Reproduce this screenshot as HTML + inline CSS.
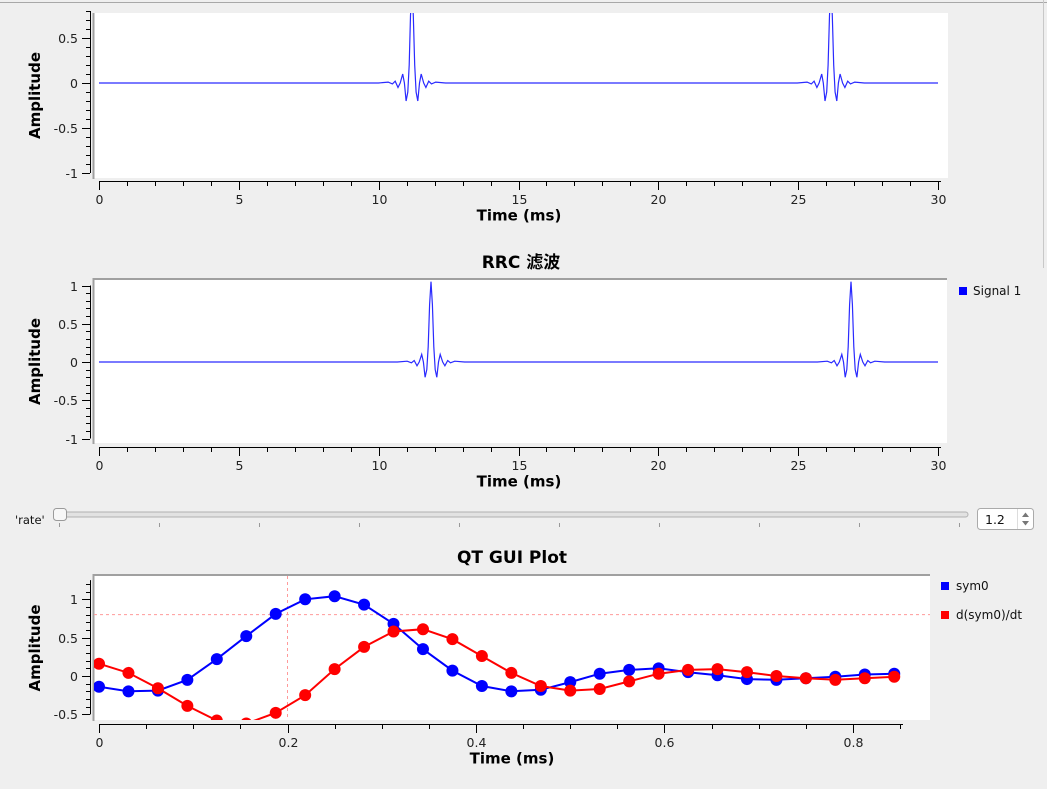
<!DOCTYPE html>
<html><head><meta charset="utf-8"><style>
html,body{margin:0;padding:0;background:#efefef;}
svg{display:block;font-family:"DejaVu Sans","Liberation Sans","Noto Sans CJK SC",sans-serif;}
.tk{font-size:12.5px;fill:#222;}
.ttl{font-size:17px;font-weight:bold;fill:#000;}
.ax{font-size:15px;font-weight:bold;fill:#000;}
</style></head><body>
<svg id="root" width="1047" height="789" viewBox="0 0 1047 789">
<line x1="0" y1="2.5" x2="1047" y2="2.5" stroke="#a8a8a8" stroke-width="1"/>
<line x1="1043.5" y1="0" x2="1043.5" y2="268" stroke="#c8c8c8" stroke-width="1"/>
<g id="layer"></g>
<!-- slider -->
<text x="15" y="524" font-size="11.5" fill="#111">'rate'</text>
<rect x="55" y="512" width="913" height="5" rx="2.5" fill="#e2e2e2" stroke="#b0b0b0"/>
<rect x="53.5" y="508.5" width="13" height="12" rx="3" fill="#f7f7f7" stroke="#9a9a9a"/>
<g id="sliderTicks" stroke="#999"></g>
<g>
<rect x="977.5" y="508.5" width="56" height="21" rx="3" fill="#fff" stroke="#aaa"/>
<text x="985" y="524" font-size="12.5" fill="#111">1.2</text>
<line x1="1017.5" y1="509" x2="1017.5" y2="529" stroke="#ddd"/>
<path d="M1022 517 L1025.5 512.5 L1029 517 Z" fill="#777"/>
<path d="M1022 521 L1025.5 525.5 L1029 521 Z" fill="#777"/>
</g>
</svg>
<script>
// ---- data ----
const pulseOffsets = [-1.2,-0.85,-0.7,-0.6,-0.5,-0.42,-0.33,-0.27,-0.21,-0.15,-0.1,-0.05,0,0.05,0.1,0.15,0.21,0.27,0.33,0.42,0.5,0.6,0.7,0.85,1.2];
const pulseValues  = [0,0.01,-0.01,0.02,-0.05,0,0.1,0,-0.2,-0.1,0.2,0.75,1.05,0.75,0.2,-0.1,-0.2,0,0.1,0,-0.05,0.02,-0.01,0.01,0];
const topPulseCenters = [11.19, 26.17];
const rrcPulseCenters = [11.87, 26.89];
const timeTicks = [0,5,10,15,20,25,30];
const ampTicks = [-1,-0.5,0,0.5,1];
const plotTimes = [0,0.03125,0.0625,0.09375,0.125,0.15625,0.1875,0.21875,0.25,0.28125,0.3125,0.34375,0.375,0.40625,0.4375,0.46875,0.5,0.53125,0.5625,0.59375,0.625,0.65625,0.6875,0.71875,0.75,0.78125,0.8125,0.84375];
const sym0 = [-0.14,-0.20,-0.19,-0.05,0.22,0.52,0.81,1.0,1.04,0.93,0.68,0.35,0.07,-0.13,-0.20,-0.18,-0.08,0.03,0.08,0.10,0.05,0.01,-0.04,-0.05,-0.03,-0.01,0.02,0.03];
const dsym0 = [0.16,0.04,-0.16,-0.39,-0.58,-0.62,-0.48,-0.25,0.09,0.38,0.58,0.61,0.48,0.26,0.04,-0.13,-0.19,-0.17,-0.07,0.03,0.08,0.09,0.05,0.0,-0.03,-0.05,-0.03,-0.01];
const plotXTicks = [0,0.2,0.4,0.6,0.8];
const plotYTicks = [-0.5,0,0.5,1];
const crosshair = [0.2, 0.8];
const sliderTickVals = [0,1,2,3,4,5,6,7,8,9];

const NS="http://www.w3.org/2000/svg";
const layer=document.getElementById('layer');
function mk(tag,attrs,parent){const e=document.createElementNS(NS,tag);for(const k in attrs)e.setAttribute(k,attrs[k]);(parent||layer).appendChild(e);return e;}
function scale(d0,d1,p0,p1){return v=>p0+(v-d0)*(p1-p0)/(d1-d0);}
function fmt(v){return (Math.round(v*100)/100).toString();}

function axesAndFrame(g,o){
  const {x0,x1,y0,y1,sx,sy}=o;
  mk('rect',{x:x0,y:y0,width:x1-x0,height:y1-y0,fill:'#fff'},g);
  mk('line',{x1:x0-0.5,y1:y0,x2:x0-0.5,y2:y1+1,stroke:'#a0a0a0','stroke-width':2},g);
  if(!o.noTop) mk('line',{x1:x0-1.5,y1:y0-1,x2:x1,y2:y0-1,stroke:'#a0a0a0','stroke-width':2},g);
  const ya=mk('g',{},g);
  
  
  const bx=o.axX;
  mk('line',{x1:bx+0.5,y1:sy(o.yMax),x2:bx+0.5,y2:sy(o.yMin),stroke:'#000'},ya);
  for(let v=o.yMin;v<=o.yMax+1e-9;v+=o.yMinor){mk('line',{x1:bx-4,y1:Math.round(sy(v))+0.5,x2:bx,y2:Math.round(sy(v))+0.5,stroke:'#000'},ya);}
  o.yTicks.forEach(v=>{const y=Math.round(sy(v))+0.5;mk('line',{x1:bx-8,y1:y,x2:bx,y2:y,stroke:'#000'},ya);
    const t=mk('text',{x:bx-12,y:y+4.5,'text-anchor':'end',class:'tk'},ya);t.textContent=fmt(v);});
  const yt=mk('text',{x:0,y:0,class:'ax','text-anchor':'middle',transform:`translate(40,${(y0+y1)/2}) rotate(-90)`},g);
  yt.textContent='Amplitude';
  
  
  const xa=mk('g',{},g);
  
  
  const by=o.axY;
  mk('line',{x1:sx(o.xMin),y1:by+0.5,x2:o.axXEnd,y2:by+0.5,stroke:'#000'},xa);
  for(let v=o.xMin;sx(v)<=o.axXEnd+0.5;v+=o.xMinor){const x=Math.round(sx(v))+0.5;mk('line',{x1:x,y1:by,x2:x,y2:by+5,stroke:'#000'},xa);}
  o.xTicks.forEach(v=>{const x=Math.round(sx(v))+0.5;mk('line',{x1:x,y1:by,x2:x,y2:by+9,stroke:'#000'},xa);
    const t=mk('text',{x:x,y:by+23,'text-anchor':'middle',class:'tk'},xa);t.textContent=fmt(v);});
  const xt=mk('text',{x:o.xTitleX,y:by+39.5,'text-anchor':'middle',class:'ax'},g);
  xt.textContent='Time (ms)';
  
  
}
let clipId=0;
function clip(g,o){const id='c'+(clipId++);const cp=mk('clipPath',{id:id},g);mk('rect',{x:o.x0,y:o.y0,width:o.x1-o.x0,height:o.y1-o.y0},cp);return id;}

function timeChart(name,centers,o,legend){
  const g=mk('g',{});
  
  
  axesAndFrame(g,o);
  const id=clip(g,o);
  const pts=[[0,0]];
  centers.forEach(c=>pulseOffsets.forEach((d,i)=>pts.push([c+d,pulseValues[i]])));
  pts.push([30,0]);
  const d=pts.map((p,i)=>(i?'L':'M')+o.sx(p[0]).toFixed(1)+' '+o.sy(p[1]).toFixed(1)).join(' ');
  const path=mk('path',{d:d,fill:'none',stroke:'#2a2aff','stroke-width':1.2,'clip-path':`url(#${id})`},g);
  
  
  if(legend){
    const lg=mk('g',{},g);
    
    
    mk('rect',{x:959,y:287,width:8,height:8,fill:'#0000ff'},lg);
    const t=mk('text',{x:973,y:295,'font-size':12,fill:'#111'},lg);t.textContent='Signal 1';
  }
  if(o.title){const t=mk('text',{x:o.titleX,y:o.titleY,'text-anchor':'middle',class:'ttl'},g);t.textContent=o.title;
    
    }
}

const sxT=scale(0,30,99,938);
timeChart('time-chart-top',topPulseCenters,{x0:94,x1:948,y0:13,y1:178,sx:sxT,sy:scale(0,0.5,83,38),axX:90,axY:181,axXEnd:941,noTop:true,
  xMin:0,xMinor:1,xTicks:timeTicks,yMin:-1,yMax:0.8,yMinor:0.1,yTicks:[-1,-0.5,0,0.5],xTitleX:519},false);
timeChart('rrc-filter-chart',rrcPulseCenters,{x0:94,x1:947,y0:280,y1:443,sx:sxT,sy:scale(0,1,362,285.5),axX:90,axY:447,axXEnd:941,
  xMin:0,xMinor:1,xTicks:timeTicks,yMin:-1,yMax:1,yMinor:0.1,yTicks:ampTicks,xTitleX:519,title:'RRC 滤波',titleX:521,titleY:268},true);

(function(){
  const o={x0:94,x1:930,y0:576,y1:720,sx:scale(0,0.8,99,853),sy:scale(0,1,676,599.3),axX:90,axY:724,axXEnd:903,
    xMin:0,xMinor:0.05,xTicks:plotXTicks,yMin:-0.5,yMax:1.25,yMinor:0.1,yTicks:plotYTicks,xTitleX:512};
  const g=mk('g',{});
  
  
  axesAndFrame(g,o);
  const id=clip(g,o);
  const t=mk('text',{x:512,y:563,'text-anchor':'middle',class:'ttl'},g);t.textContent='QT GUI Plot';
  
  
  const cx=o.sx(crosshair[0]),cy=o.sy(crosshair[1]);
  const ch=mk('g',{'clip-path':`url(#${id})`},g);
  
  
  mk('line',{x1:cx,y1:o.y0,x2:cx,y2:o.y1,stroke:'#ff9a9a','stroke-dasharray':'3 3'},ch);
  mk('line',{x1:o.x0,y1:cy,x2:o.x1,y2:cy,stroke:'#ff9a9a','stroke-dasharray':'3 3'},ch);
  function series(vals,color,name){
    const sg=mk('g',{'clip-path':`url(#${id})`},g);
    
    
    const d=vals.map((v,i)=>(i?'L':'M')+o.sx(plotTimes[i]).toFixed(1)+' '+o.sy(v).toFixed(1)).join(' ');
    mk('path',{d:d,fill:'none',stroke:color,'stroke-width':2},sg);
    vals.forEach((v,i)=>{const c=mk('circle',{cx:o.sx(plotTimes[i]),cy:o.sy(v),r:6,fill:color},sg);
      
      });
  }
  series(sym0,'#0000ff','sym0');
  series(dsym0,'#ff0000','dsym0-dt');
  [['sym0','#0000ff',582],['d(sym0)/dt','#ff0000',611]].forEach(e=>{
    const lg=mk('g',{},g);
    
    
    mk('rect',{x:941,y:e[2],width:8,height:8,fill:e[1]},lg);
    const tt=mk('text',{x:956,y:e[2]+8,'font-size':12,fill:'#111'},lg);tt.textContent=e[0];
  });
})();

const st=document.getElementById('sliderTicks');
sliderTickVals.forEach(v=>{const x=59.5+v*100;const l=mk('line',{x1:x,y1:523,x2:x,y2:527},st);
  
  });
</script>
</body></html>
